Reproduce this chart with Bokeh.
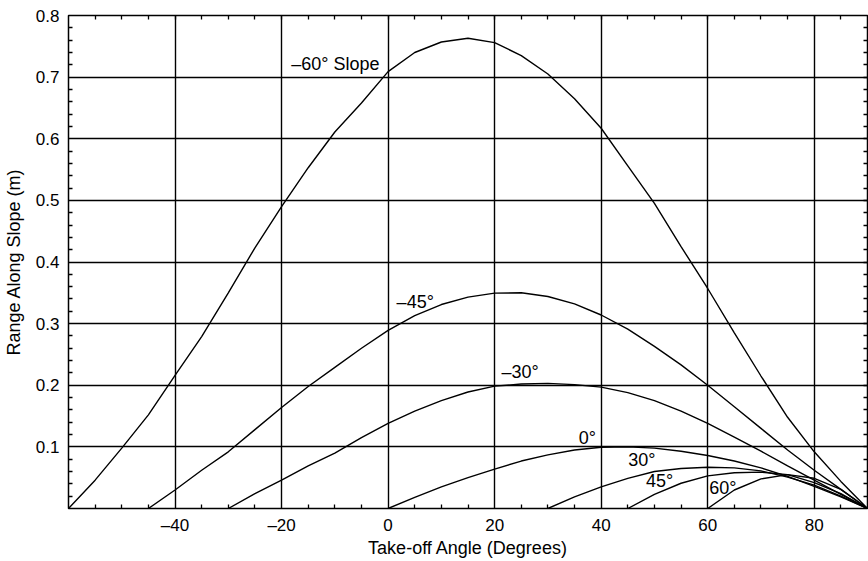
from bokeh.plotting import figure
from bokeh.models import Range1d, FixedTicker, LinearAxis
from bokeh.core.properties import value
from bokeh.embed import file_html
from bokeh.resources import INLINE

# ---- data ----
x_m60 = [-60, -55, -50, -45, -40, -35, -30, -25, -20, -15, -10, -5, 0, 5, 10, 15, 20, 25, 30, 35, 40, 45, 50, 55, 60, 65, 70, 75, 80, 85, 90]
r_m60 = [0, 0.046, 0.098, 0.152, 0.216, 0.279, 0.350, 0.423, 0.490, 0.553, 0.611, 0.658, 0.709, 0.740, 0.757, 0.763, 0.756, 0.735, 0.705, 0.665, 0.617, 0.556, 0.495, 0.425, 0.357, 0.285, 0.215, 0.148, 0.092, 0.044, 0]

x_m45 = [-45, -40, -35, -30, -25, -20, -15, -10, -5, 0, 5, 10, 15, 20, 25, 30, 35, 40, 45, 50, 55, 60, 65, 70, 75, 80, 85, 90]
r_m45 = [0, 0.030, 0.062, 0.092, 0.128, 0.164, 0.198, 0.229, 0.260, 0.289, 0.313, 0.331, 0.343, 0.3495, 0.350, 0.344, 0.332, 0.314, 0.291, 0.263, 0.233, 0.200, 0.165, 0.130, 0.095, 0.062, 0.031, 0]

x_m30 = [-30, -25, -20, -15, -10, -5, 0, 5, 10, 15, 20, 25, 30, 35, 40, 45, 50, 55, 60, 65, 70, 75, 80, 85, 90]
r_m30 = [0, 0.024, 0.046, 0.069, 0.090, 0.115, 0.138, 0.158, 0.175, 0.189, 0.1985, 0.202, 0.203, 0.201, 0.197, 0.188, 0.175, 0.158, 0.138, 0.116, 0.093, 0.069, 0.046, 0.023, 0]

x_0 = [0, 5, 10, 15, 20, 25, 30, 35, 40, 45, 50, 55, 60, 65, 70, 75, 80, 85, 90]
r_0 = [0, 0.018, 0.035, 0.050, 0.064, 0.077, 0.087, 0.095, 0.0995, 0.100, 0.098, 0.093, 0.086, 0.077, 0.066, 0.052, 0.036, 0.019, 0]

x_30 = [30, 35, 40, 45, 50, 55, 60, 65, 70, 75, 80, 85, 90]
r_30 = [0, 0.019, 0.035, 0.049, 0.060, 0.065, 0.067, 0.066, 0.061, 0.051, 0.038, 0.020, 0]

x_45 = [45, 50, 55, 60, 65, 70, 75, 80, 85, 90]
r_45 = [0, 0.023, 0.041, 0.053, 0.058, 0.059, 0.055, 0.042, 0.024, 0]

x_60 = [60, 65, 70, 75, 80, 85, 90]
r_60 = [0, 0.030, 0.048, 0.055, 0.049, 0.031, 0]

curve_labels = ["\u201360\u00b0 Slope", "\u201345\u00b0", "\u201330\u00b0", "0\u00b0", "30\u00b0", "45\u00b0", "60\u00b0"]
label_x = [-18.2, 1.6, 21.3, 35.8, 45.1, 48.4, 60.3]
label_y = [0.722, 0.335, 0.222, 0.115, 0.078, 0.044, 0.034]

x_major = [-40, -20, 0, 20, 40, 60, 80]
x_minor = [-55, -50, -45, -35, -30, -25, -15, -10, -5, 5, 10, 15, 25, 30, 35, 45, 50, 55, 65, 70, 75, 85]
y_major = [0.1, 0.2, 0.3, 0.4, 0.5, 0.6, 0.7, 0.8]
y_grid = [0.1, 0.2, 0.3, 0.4, 0.5, 0.6, 0.7]
y_minor = [0.02, 0.04, 0.06, 0.08, 0.12, 0.14, 0.16, 0.18, 0.22, 0.24, 0.26, 0.28,
           0.32, 0.34, 0.36, 0.38, 0.42, 0.44, 0.46, 0.48, 0.52, 0.54, 0.56, 0.58,
           0.62, 0.64, 0.66, 0.68, 0.72, 0.74, 0.76, 0.78]

FONT = "Liberation Sans"

p = figure(width=868, height=561, x_range=Range1d(-60, 90), y_range=Range1d(0, 0.8),
           output_backend="svg", toolbar_location=None,
           min_border_left=68, min_border_right=1, min_border_top=15, min_border_bottom=53,
           x_axis_label="Take-off Angle (Degrees)", y_axis_label="Range Along Slope (m)")

p.outline_line_color = "black"
p.outline_line_width = 1.5
p.background_fill_color = "white"
p.border_fill_color = "white"

xt = FixedTicker(ticks=x_major, minor_ticks=x_minor)
yt = FixedTicker(ticks=y_major, minor_ticks=y_minor)

for ax, t in ((p.xaxis[0], xt), (p.yaxis[0], yt)):
    ax.ticker = t
    ax.axis_line_color = None
    ax.major_tick_in = 0
    ax.major_tick_out = 0
    ax.minor_tick_in = 4
    ax.minor_tick_out = 0
    ax.minor_tick_line_color = "black"
    ax.minor_tick_line_width = 1.3
    ax.major_label_text_font = FONT
    ax.major_label_text_font_size = "17px"
    ax.major_label_text_color = "black"
    ax.axis_label_text_font = FONT
    ax.axis_label_text_font_size = "18px"
    ax.axis_label_text_font_style = "normal"
    ax.axis_label_text_color = "black"

p.xaxis[0].major_label_overrides = {-40: "\u201340", -20: "\u201320"}
p.xaxis[0].major_label_standoff = 7
p.xaxis[0].axis_label_standoff = 0
p.yaxis[0].major_label_standoff = 9
p.yaxis[0].axis_label_standoff = 9

# top and right axes: minor ticks only (no major ticks, so no labels)
for loc, mt in (("above", x_minor + x_major), ("right", y_minor + y_grid)):
    a = LinearAxis(ticker=FixedTicker(ticks=[], minor_ticks=mt))
    a.axis_line_color = None
    a.major_tick_in = 0
    a.major_tick_out = 0
    a.minor_tick_in = 4
    a.minor_tick_out = 0
    a.minor_tick_line_color = "black"
    a.minor_tick_line_width = 1.3
    a.major_label_standoff = 0
    p.add_layout(a, loc)

p.xgrid.ticker = FixedTicker(ticks=x_major)
p.ygrid.ticker = FixedTicker(ticks=y_grid)
for g in (p.xgrid, p.ygrid):
    g.grid_line_color = "black"
    g.grid_line_width = 1.4
    g.grid_line_alpha = 1.0

for xs, ys in ((x_m60, r_m60), (x_m45, r_m45), (x_m30, r_m30), (x_0, r_0),
               (x_30, r_30), (x_45, r_45), (x_60, r_60)):
    p.line(xs, ys, line_color="black", line_width=1.4)

p.text(x=label_x, y=label_y, text=curve_labels, text_font=value(FONT),
       text_font_size="18px", text_color="black", text_align="left",
       text_baseline="middle")

open("out.html", "w").write(file_html(p, INLINE))
